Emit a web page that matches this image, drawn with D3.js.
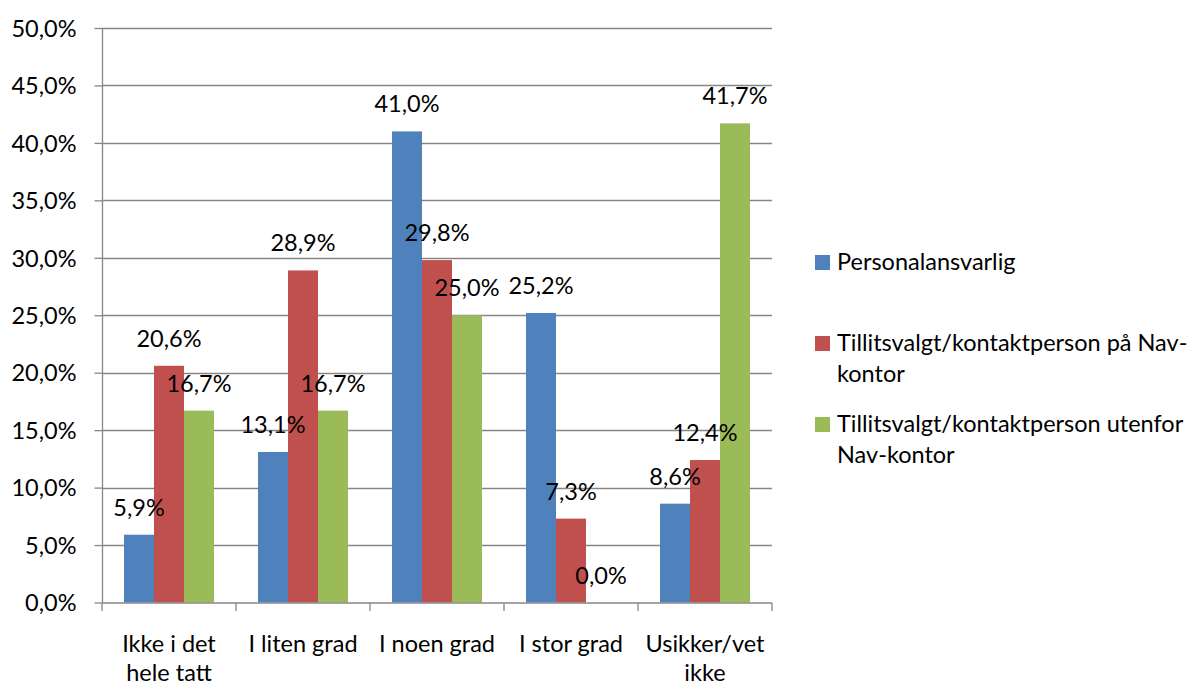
<!DOCTYPE html>
<html><head><meta charset="utf-8">
<script src="https://cdn.jsdelivr.net/npm/d3@7"></script>
<style>body{margin:0;background:#fff}text{font-family:Lato,"Open Sans",sans-serif;fill:#000}</style>
</head><body><svg id="c" width="1204" height="687"></svg>
<script>
const categories = [["Ikke i det","hele tatt"],["I liten grad"],["I noen grad"],["I stor grad"],["Usikker/vet","ikke"]];
const seriesNames = [["Personalansvarlig"],["Tillitsvalgt/kontaktperson på Nav-","kontor"],["Tillitsvalgt/kontaktperson utenfor","Nav-kontor"]];
const personalansvarlig = [5.9, 13.1, 41.0, 25.2, 8.6];
const tillitsvalgtPaa = [20.6, 28.9, 29.8, 7.3, 12.4];
const tillitsvalgtUtenfor = [16.7, 16.7, 25.0, 0.0, 41.7];
const yTicks = [0,5,10,15,20,25,30,35,40,45,50];
const colors = ["#4F81BD","#C0504D","#9BBB59"];
const series = [personalansvarlig, tillitsvalgtPaa, tillitsvalgtUtenfor];

const svg = d3.select("#c");
const L=102, R=772, T=28, B=602.5;
const fs = 23.5;
const y = d3.scaleLinear().domain([0,50]).range([B,T]);
const x = d3.scaleBand().domain(d3.range(categories.length)).range([L,R]).paddingInner(0).paddingOuter(0);
const inner = d3.scaleBand().domain(d3.range(3)).range([0,x.bandwidth()]).paddingOuter(22/30).paddingInner(0);
const fmt = v => d3.format(".1f")(v).replace(".",",")+"%";

// grid
svg.append("g").selectAll("line").data(yTicks.filter(d=>d>0)).join("line")
  .attr("x1",L).attr("x2",R).attr("y1",d=>Math.round(y(d))+0.5).attr("y2",d=>Math.round(y(d))+0.5)
  .attr("stroke","#868686").attr("stroke-width",1.3);

// bars
series.forEach((s,si)=>{
  svg.append("g").selectAll("rect").data(s).join("rect")
    .attr("x",(d,i)=>x(i)+inner(si)).attr("width",inner.bandwidth())
    .attr("y",d=>y(d)).attr("height",d=>B-y(d)).attr("fill",colors[si]);
});
// labels
series.forEach((s,si)=>{
  svg.append("g").selectAll("text").data(s).join("text")
    .attr("x",(d,i)=>x(i)+inner(si)+inner.bandwidth()/2).attr("y",d=>y(d)-19)
    .attr("text-anchor","middle").attr("font-size",fs).text(d=>fmt(d));
});

// y axis
const ya = svg.append("g").attr("transform",`translate(${L+0.5},0)`)
  .call(d3.axisLeft(y).tickValues(yTicks).tickSize(8).tickPadding(18).tickFormat(fmt));
ya.selectAll("line,path").attr("stroke","#868686").attr("stroke-width",1.3);
ya.selectAll("text").attr("font-size",fs).attr("font-family","Lato").attr("fill","#000").attr("dy","0.35em");
ya.select("path").attr("d",`M0,${T}V${B}`);

// x axis
const xa = svg.append("g").attr("transform",`translate(0,${B+0.5})`);
xa.append("line").attr("x1",L).attr("x2",R).attr("stroke","#868686").attr("stroke-width",1.3);
xa.selectAll("line.t").data(d3.range(categories.length+1)).join("line").attr("class","t")
  .attr("x1",i=>L+i*x.bandwidth()).attr("x2",i=>L+i*x.bandwidth()).attr("y1",0).attr("y2",8)
  .attr("stroke","#868686").attr("stroke-width",1.3);
categories.forEach((c,i)=>{
  const t = xa.append("text").attr("text-anchor","middle").attr("font-size",fs)
    .attr("x",x(i)+x.bandwidth()/2).attr("y",49);
  c.forEach((ln,j)=>t.append("tspan").attr("x",x(i)+x.bandwidth()/2).attr("dy",j?29:0).text(ln));
});

// legend
const legTop = [255, 336, 417];
seriesNames.forEach((n,i)=>{
  svg.append("rect").attr("x",815).attr("y",legTop[i]).attr("width",15).attr("height",15).attr("fill",colors[i]);
  const t = svg.append("text").attr("x",837).attr("y",legTop[i]+15).attr("font-size",fs);
  n.forEach((ln,j)=>t.append("tspan").attr("x",837).attr("dy",j?31:0).text(ln));
});
</script></body></html>
